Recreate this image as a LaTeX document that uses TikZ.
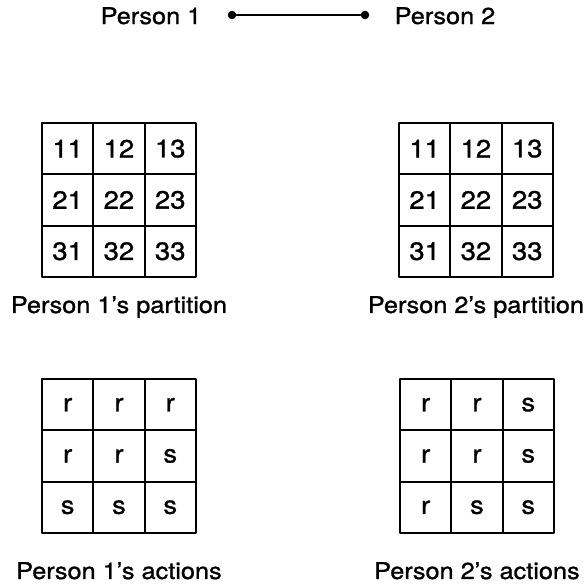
\documentclass[tikz,border=0pt]{standalone}
\usepackage{fontspec}
\setmainfont{TeX Gyre Heros}[FakeStretch=1.1, FakeBold=1.1]
\usetikzlibrary{positioning}

\begin{document}
\begin{tikzpicture}[x=1pt, y=-1pt, line cap=round, line join=round]

	% Styles
	\tikzset{
		cell/.style={
			draw=black, line width=2.2pt, minimum size=51.3pt,
			inner sep=0pt, font=\fontsize{25}{29}\selectfont
		},
		lbl/.style={font=\fontsize{23}{27}\selectfont, inner sep=0pt},
		dot/.style={circle, fill=black, inner sep=0pt, minimum size=8.5pt}
	}
	\useasboundingbox (0,0) rectangle (587,587);

	% Persons
	\node[lbl, anchor=base] (P1) at (151,24) {Person 1};
	\node[lbl, anchor=base] (P2) at (445,24) {Person 2};
	\node[dot] (d1) at (232,15) {};
	\node[dot] (d2) at (365,15) {};
	\draw[line width=1.3pt] (d1) -- (d2);

	% Partitions
	\foreach \r in {1,2,3}
	\foreach \c in {1,2,3} {
		\node[cell] (pa-\r-\c) at ({42+51.3*(\c-0.5)}, {123+51.3*(\r-0.5)}) {\r\c};
		\node[cell] (pb-\r-\c) at ({399+51.3*(\c-0.5)}, {123+51.3*(\r-0.5)}) {\r\c};
	}

	% Actions
	\foreach \r/\a/\b/\c in {1/r/r/r, 2/r/r/s, 3/s/s/s} {
		\node[cell] (aa-\r-1) at (67.65, {379+51.3*(\r-0.5)}) {\a};
		\node[cell] (aa-\r-2) at (118.95, {379+51.3*(\r-0.5)}) {\b};
		\node[cell] (aa-\r-3) at (170.25, {379+51.3*(\r-0.5)}) {\c};
	}
	\foreach \r/\a/\b/\c in {1/r/r/s, 2/r/r/s, 3/r/s/s} {
		\node[cell] (ab-\r-1) at (425.65, {379+51.3*(\r-0.5)}) {\a};
		\node[cell] (ab-\r-2) at (476.95, {379+51.3*(\r-0.5)}) {\b};
		\node[cell] (ab-\r-3) at (528.25, {379+51.3*(\r-0.5)}) {\c};
	}

	% Labels
	\node[lbl, below=18pt of pa-3-2] (pla) {Person 1's partition};
	\node[lbl, below=18pt of pb-3-2] (plb) {Person 2's partition};
	\node[lbl, below=28pt of aa-3-2] (ala) {Person 1's actions};
	\node[lbl, below=28pt of ab-3-2] (alb) {Person 2's actions};

\end{tikzpicture}
\end{document}
